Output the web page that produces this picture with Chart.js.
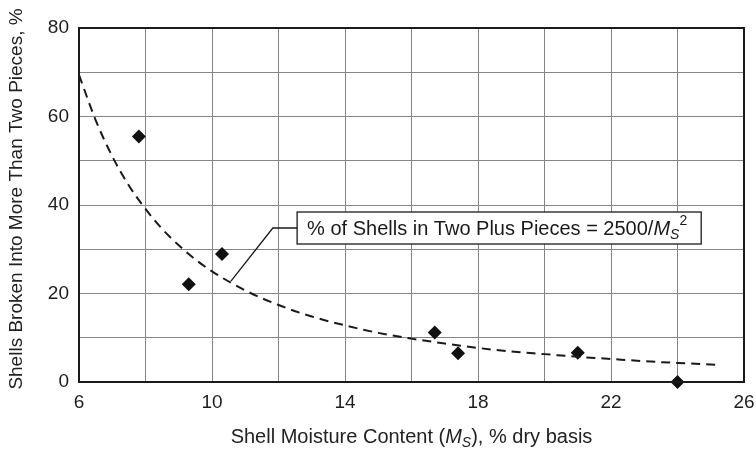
<!DOCTYPE html>
<html>
<head>
<meta charset="utf-8">
<script src="https://cdn.jsdelivr.net/npm/chart.js@4.4.1/dist/chart.umd.min.js"></script>
<style>
  html, body { margin: 0; padding: 0; background: #ffffff; }
  #wrap { width: 756px; height: 449px; }
</style>
</head>
<body>
<div id="wrap"><canvas id="c" width="756" height="449"></canvas></div>
<script>
// ---- data ----
const moisture = [7.8, 9.3, 10.3, 16.7, 17.4, 21.0, 24.0];
const broken   = [55.5, 22.1, 28.9, 11.2, 6.5, 6.6, 0];

// fitted curve (% of shells in two plus pieces = 2500/Ms^2)
const curveX = [6, 6.5, 7, 7.5, 8, 8.5, 9, 9.5, 10, 11, 12, 13, 14, 15, 16, 17, 18, 19, 20, 21, 22, 23, 24, 25.2];
const curveY = [69.4, 59.2, 51.0, 44.4, 39.1, 34.6, 30.9, 27.7, 25.0, 20.7, 17.4, 14.8, 12.8, 11.1, 9.8, 8.7, 7.7, 6.9, 6.3, 5.7, 5.2, 4.7, 4.3, 3.9];

const xLabelTicks = [6, 10, 14, 18, 22, 26];
const yLabelTicks = [0, 20, 40, 60, 80];

// annotation (data units)
const noteText = [
  {t: '% of Shells in Two Plus Pieces = 2500/'},
  {t: 'M', italic: true},
  {t: 'S', italic: true, sub: true},
  {t: '2', sup: true}
];
const noteBox = {x: 12.56, y: 34.8};
const noteElbow = {x: 11.83, y: 34.8};
const noteTip = {x: 10.57, y: 22.8};

const xTitleRuns = [
  {t: 'Shell Moisture Content ('},
  {t: 'M', italic: true},
  {t: 'S', italic: true, sub: true},
  {t: '), % dry basis'}
];
const yTitle = 'Shells Broken Into More Than Two Pieces, %';

const FONT = '"Liberation Sans", Arial, Helvetica, sans-serif';

function runFont(r, size) {
  const s = (r.sub || r.sup) ? Math.round(size * 0.68) : size;
  return (r.italic ? 'italic ' : '') + s + 'px ' + FONT;
}
function runsWidth(ctx, runs, size) {
  let w = 0;
  runs.forEach(r => { ctx.font = runFont(r, size); w += ctx.measureText(r.t).width; });
  return w;
}
function drawRuns(ctx, runs, x, y, size) {
  let cx = x;
  ctx.textBaseline = 'middle';
  ctx.textAlign = 'left';
  runs.forEach(r => {
    ctx.font = runFont(r, size);
    let dy = 0;
    if (r.sub) dy = size * 0.32;
    if (r.sup) dy = -size * 0.38;
    ctx.fillText(r.t, cx, y + dy);
    cx += ctx.measureText(r.t).width;
  });
}

const extras = {
  id: 'extras',
  afterDatasetsDraw(chart) {
    const {ctx, chartArea: a, scales: {x, y}} = chart;
    ctx.save();
    // frame
    ctx.strokeStyle = '#1a1a1a';
    ctx.lineWidth = 2;
    ctx.strokeRect(a.left, a.top, a.right - a.left, a.bottom - a.top);

    // annotation leader
    ctx.lineWidth = 1.3;
    ctx.strokeStyle = '#1a1a1a';
    ctx.beginPath();
    ctx.moveTo(x.getPixelForValue(noteBox.x), y.getPixelForValue(noteBox.y));
    ctx.lineTo(x.getPixelForValue(noteElbow.x), y.getPixelForValue(noteElbow.y));
    ctx.lineTo(x.getPixelForValue(noteTip.x), y.getPixelForValue(noteTip.y));
    ctx.stroke();

    // annotation box
    const size = 20;
    const tw = runsWidth(ctx, noteText, size);
    const bx = x.getPixelForValue(noteBox.x);
    const by = y.getPixelForValue(noteBox.y);
    const padX = 10, padR = 14, h = 32;
    ctx.fillStyle = '#ffffff';
    ctx.fillRect(bx, by - h / 2, tw + padX + padR, h);
    ctx.lineWidth = 1.3;
    ctx.strokeRect(bx, by - h / 2, tw + padX + padR, h);
    ctx.fillStyle = '#1a1a1a';
    drawRuns(ctx, noteText, bx + padX, by + 1, size);

    // x axis title
    const ts = 20;
    const xw = runsWidth(ctx, xTitleRuns, ts);
    const xc = (a.left + a.right) / 2;
    ctx.fillStyle = '#222';
    drawRuns(ctx, xTitleRuns, xc - xw / 2, 437, ts);

    // y axis title
    ctx.save();
    ctx.translate(17, 199);
    ctx.rotate(-Math.PI / 2);
    ctx.font = '19px ' + FONT;
    ctx.textAlign = 'center';
    ctx.textBaseline = 'middle';
    ctx.fillText(yTitle, 0, 0);
    ctx.restore();

    ctx.restore();
  }
};

new Chart(document.getElementById('c'), {
  type: 'scatter',
  data: {
    datasets: [
      {
        type: 'line',
        data: curveX.map((v, i) => ({x: v, y: curveY[i]})),
        borderColor: '#1a1a1a',
        borderWidth: 2,
        borderDash: [9, 6],
        pointRadius: 0,
        fill: false,
        cubicInterpolationMode: 'monotone'
      },
      {
        data: moisture.map((v, i) => ({x: v, y: broken[i]})),
        pointStyle: 'rectRot',
        pointRadius: 7,
        pointHoverRadius: 7,
        backgroundColor: '#111111',
        borderColor: '#111111',
        borderWidth: 0,
        clip: false
      }
    ]
  },
  options: {
    responsive: false,
    animation: false,
    devicePixelRatio: 1,
    layout: { padding: { left: 0, right: 12, top: 28, bottom: 0 } },
    plugins: { legend: { display: false }, tooltip: { enabled: false } },
    scales: {
      x: {
        type: 'linear', min: 6, max: 26,
        border: { display: false },
        grid: { color: '#858585', lineWidth: 1, drawTicks: false },
        ticks: {
          stepSize: 2, padding: 9, color: '#1e1e1e',
          font: { family: FONT, size: 19 },
          maxRotation: 0, autoSkip: false,
          callback: v => xLabelTicks.includes(v) ? String(v) : ''
        },
        afterFit(s) { s.height = 67; s.paddingRight = 0; s.paddingLeft = 0; }
      },
      y: {
        type: 'linear', min: 0, max: 80,
        border: { display: false },
        grid: { color: '#858585', lineWidth: 1, drawTicks: false },
        ticks: {
          stepSize: 10, padding: 10, color: '#1e1e1e',
          font: { family: FONT, size: 19 },
          autoSkip: false,
          callback: v => yLabelTicks.includes(v) ? String(v) : ''
        },
        afterFit(s) { s.width = 79; s.paddingTop = 0; s.paddingBottom = 0; }
      }
    }
  },
  plugins: [extras]
});
</script>
</body>
</html>
